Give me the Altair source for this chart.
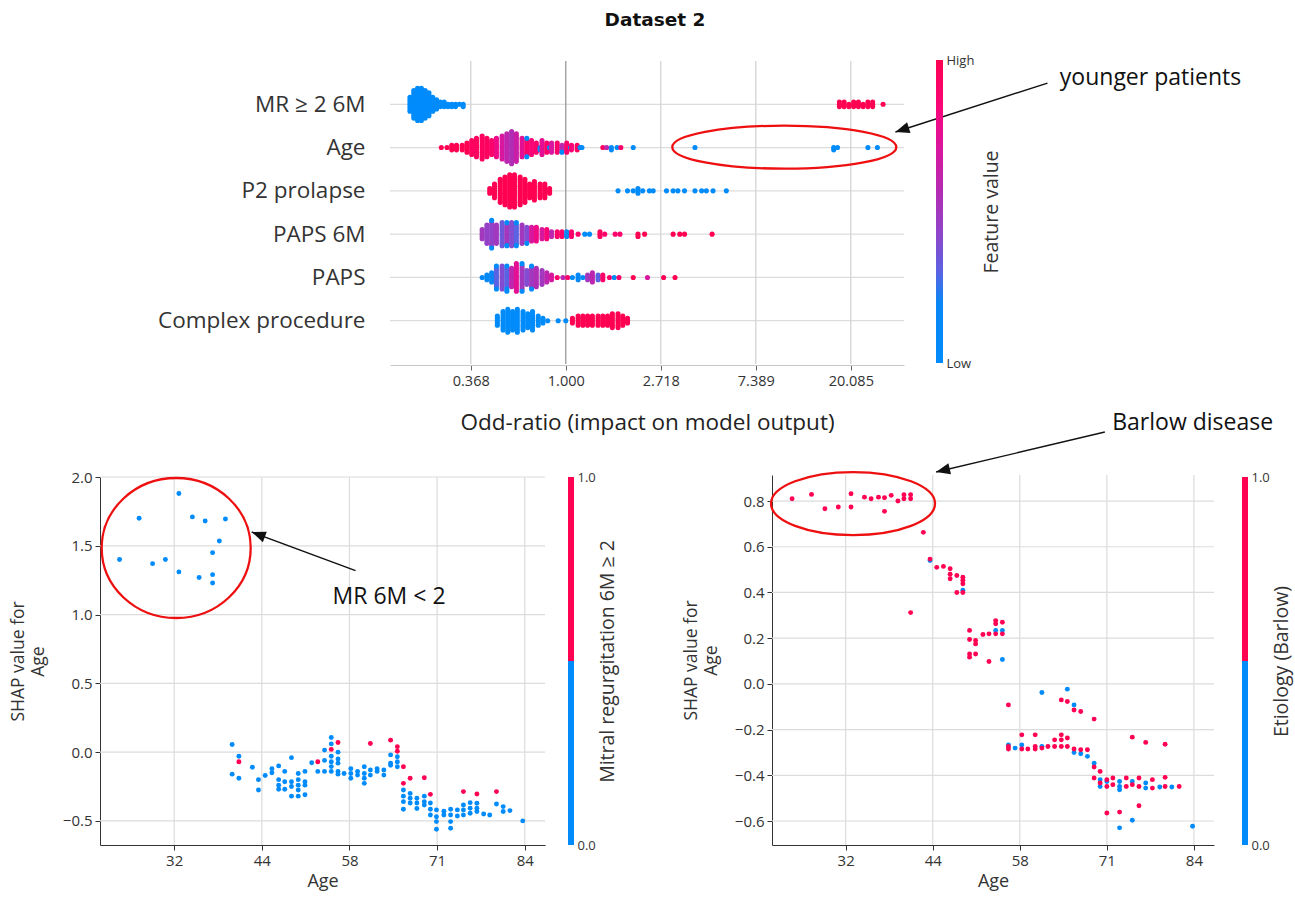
import math
import altair as alt
import pandas as pd

W, H = 1295, 899
FONT = "Open Sans"

# ---------------- data ----------------
TITLE = "Dataset 2"
FEATURES = ["MR ≥ 2 6M", "Age", "P2 prolapse", "PAPS 6M", "PAPS", "Complex procedure"]
ODDS_TICKS = [-1, 0, 1, 2, 3]
ODDS_LABELS = ["0.368", "1.000", "2.718", "7.389", "20.085"]
TOP_X_TITLE = "Odd-ratio (impact on model output)"

# beeswarm bins per feature: (SHAP log-odds, dots stacked at that value, feature value 0..1)
SW_MR = [(-1.64, 7, 0), (-1.60, 13, 0), (-1.56, 15, 0), (-1.52, 15, 0), (-1.48, 13, 0), (-1.44, 11, 0),
         (-1.40, 7, 0), (-1.36, 5, 0), (-1.32, 3, 0), (-1.28, 3, 0), (-1.24, 2, 0), (-1.20, 2, 0),
         (-1.16, 2, 0), (-1.12, 1, 0), (-1.08, 2, 0),
         (2.88, 3, 1), (2.93, 3, 1), (2.98, 2, 1), (3.03, 3, 1), (3.08, 3, 1), (3.13, 2, 1),
         (3.18, 3, 1), (3.23, 3, 1), (3.34, 1, 1)]
SW_AGE = [(-1.31, 1, 1), (-1.25, 1, 1), (-1.20, 3, 1), (-1.15, 3, 1), (-1.09, 3, 1), (-1.04, 5, 1),
          (-0.99, 7, .95), (-0.94, 9, .95), (-0.88, 11, .95), (-0.83, 9, .95), (-0.78, 7, .9),
          (-0.73, 9, .8), (-0.67, 11, .7), (-0.62, 13, .6), (-0.57, 15, .55), (-0.52, 13, .65),
          (-0.46, 9, .75), (-0.41, 7, .9), (-0.41, 2, 0), (-0.36, 7, .85), (-0.31, 5, .9),
          (-0.27, 2, 0), (-0.25, 7, .75), (-0.20, 5, .9), (-0.17, 1, 0), (-0.15, 5, .7),
          (-0.09, 5, .9), (-0.04, 3, .6), (-0.04, 1, 0), (0.01, 5, .9), (0.05, 1, 0), (0.06, 3, .85),
          (0.12, 3, .95), (0.15, 1, 0), (0.17, 1, 0), (0.39, 1, .95), (0.43, 1, .6), (0.48, 2, .05),
          (0.54, 1, 0), (0.58, 1, .9), (0.71, 1, 0), (1.36, 1, 0), (2.82, 2, 0), (2.86, 1, 0),
          (3.18, 1, 0), (3.28, 1, 0)]
SW_P2 = [(-0.80, 3, 1), (-0.75, 7, 1), (-0.69, 11, 1), (-0.64, 13, 1), (-0.59, 15, 1), (-0.54, 15, 1),
         (-0.48, 13, 1), (-0.43, 11, 1), (-0.38, 7, 1), (-0.33, 9, 1), (-0.27, 7, 1), (-0.22, 7, 1),
         (-0.17, 3, 1),
         (0.55, 1, 0), (0.65, 1, 0), (0.71, 1, 0), (0.76, 3, 0), (0.81, 1, 0), (0.88, 1, 0), (0.92, 1, 0),
         (1.06, 1, 0), (1.13, 1, 0), (1.18, 1, 0), (1.25, 1, 0), (1.36, 1, 0), (1.43, 1, 0), (1.48, 1, 0),
         (1.55, 1, 0), (1.69, 1, 0)]
SW_PAPS6M = [(-0.88, 5, .5), (-0.83, 9, .45), (-0.78, 11, .45), (-0.78, 2, 0), (-0.73, 9, .5),
             (-0.67, 11, .35), (-0.62, 9, .5), (-0.62, 2, 0), (-0.57, 11, .4), (-0.52, 9, .3),
             (-0.52, 2, .05), (-0.46, 9, .5), (-0.41, 7, .4), (-0.41, 1, 0), (-0.36, 7, .7),
             (-0.31, 7, .8), (-0.25, 5, .7), (-0.20, 5, .85), (-0.15, 3, .6), (-0.09, 3, .9),
             (-0.04, 3, .9), (0.01, 3, .2), (0.06, 3, .9), (0.13, 1, .9), (0.20, 1, 0), (0.25, 1, 0),
             (0.36, 3, .95), (0.41, 1, .9), (0.52, 1, .9), (0.57, 1, .9), (0.76, 2, 1), (0.83, 1, 1),
             (1.13, 1, 1), (1.20, 1, 1), (1.25, 1, 1), (1.54, 1, 1)]
SW_PAPS = [(-0.88, 1, .1), (-0.83, 3, .1), (-0.78, 5, .2), (-0.73, 9, .3), (-0.73, 2, 0), (-0.67, 11, .4),
           (-0.62, 9, .3), (-0.62, 3, 0), (-0.57, 9, .6), (-0.52, 13, .75), (-0.46, 11, .5), (-0.46, 2, 0),
           (-0.41, 7, .4), (-0.36, 9, .5), (-0.36, 2, 0), (-0.31, 9, .55), (-0.25, 7, .5), (-0.20, 5, .6),
           (-0.15, 3, .7), (-0.09, 1, .9), (-0.03, 1, .6), (0.02, 1, .9), (0.07, 1, 0), (0.13, 3, .1),
           (0.18, 1, 0), (0.23, 3, .5), (0.28, 5, .6), (0.34, 3, .3), (0.39, 3, .9), (0.46, 1, .9),
           (0.51, 1, 0), (0.56, 1, .9), (0.71, 1, 1), (0.86, 1, .7), (1.03, 1, 1), (1.15, 1, 1)]
SW_COMPLEX = [(-0.72, 5, 0), (-0.66, 9, 0), (-0.61, 11, 0), (-0.56, 9, 0), (-0.51, 11, 0), (-0.45, 9, 0),
              (-0.40, 7, 0), (-0.35, 9, 0), (-0.29, 5, 0), (-0.24, 3, 0), (-0.19, 1, 0), (-0.08, 1, 0),
              (0.00, 1, 0),
              (0.07, 3, 1), (0.13, 5, 1), (0.18, 5, 1), (0.23, 5, 1), (0.28, 5, 1), (0.34, 5, 1),
              (0.39, 5, 1), (0.44, 5, 1), (0.49, 7, 1), (0.55, 7, 1), (0.60, 5, 1), (0.65, 3, 1)]
SWARM_ROWS = [SW_MR, SW_AGE, SW_P2, SW_PAPS6M, SW_PAPS, SW_COMPLEX]

AGE_TICKS = [32, 45, 58, 71, 84]
AGE_LABELS = ["32", "44", "58", "71", "84"]
LEFT_Y_TICKS = [-0.5, 0.0, 0.5, 1.0, 1.5, 2.0]
RIGHT_Y_TICKS = [-0.6, -0.4, -0.2, 0.0, 0.2, 0.4, 0.6, 0.8]
DEP_Y_TITLE = ["SHAP value for", "Age"]
LEFT_CB_TITLE = "Mitral regurgitation 6M ≥ 2"
RIGHT_CB_TITLE = "Etiology (Barlow)"

# dependence plot (age, SHAP) points, split by colour feature (0 = blue, 1 = red)
LEFT_BLUE = [(23.9, 1.40), (26.8, 1.70), (28.8, 1.37), (30.7, 1.40), (32.7, 1.88), (32.7, 1.31),
             (34.7, 1.71), (35.7, 1.27), (36.6, 1.68), (37.7, 1.45), (37.7, 1.29), (37.7, 1.23),
             (38.7, 1.535), (39.6, 1.695),
             (40.6, 0.056), (40.6, -0.16), (41.6, -0.03), (41.6, -0.19), (43.6, -0.11), (44.5, -0.20),
             (44.5, -0.275), (45.5, -0.17), (46.5, -0.12), (46.5, -0.15), (47.5, -0.10), (47.5, -0.20),
             (47.5, -0.24), (47.5, -0.27), (48.4, -0.14), (48.4, -0.215), (48.4, -0.27), (49.4, -0.04),
             (49.4, -0.215), (49.4, -0.25), (49.4, -0.32), (50.4, -0.155), (50.4, -0.20), (50.4, -0.24),
             (50.4, -0.275), (50.4, -0.32), (51.4, -0.14), (51.4, -0.215), (51.4, -0.24), (51.4, -0.31),
             (52.4, -0.077), (53.3, -0.14), (54.3, 0.015), (54.3, -0.06), (54.3, -0.14), (55.3, 0.106),
             (55.3, 0.06), (55.3, -0.03), (55.3, -0.07), (55.3, -0.105), (55.3, -0.14), (56.3, 0.0),
             (56.3, -0.05), (56.3, -0.08), (56.3, -0.14), (56.3, -0.16), (57.2, -0.155), (58.2, -0.12),
             (58.2, -0.155), (58.2, -0.19), (59.2, -0.14), (59.2, -0.167), (60.2, -0.106), (60.2, -0.155),
             (60.2, -0.19), (60.2, -0.227), (61.1, -0.13), (61.1, -0.167), (62.1, -0.12), (62.1, -0.14),
             (63.1, -0.13), (63.1, -0.167), (64.1, -0.02), (64.1, -0.08), (64.1, -0.095), (65.1, -0.034),
             (65.1, -0.07), (65.1, -0.106), (66.0, -0.275), (66.0, -0.32), (66.0, -0.36), (66.0, -0.415),
             (67.0, -0.30), (67.0, -0.335), (67.0, -0.37), (68.0, -0.335), (68.0, -0.37), (68.0, -0.41),
             (69.1, -0.32), (69.1, -0.36), (69.1, -0.385), (70.0, -0.37), (70.0, -0.415), (70.0, -0.457),
             (70.9, -0.42), (70.9, -0.47), (70.9, -0.505), (70.9, -0.56), (72.0, -0.43), (72.0, -0.457),
             (73.0, -0.415), (73.0, -0.457), (73.0, -0.505), (73.0, -0.553), (74.0, -0.42), (74.0, -0.464),
             (74.9, -0.384), (74.9, -0.42), (74.9, -0.457), (75.9, -0.367), (75.9, -0.408), (75.9, -0.444),
             (76.9, -0.372), (76.9, -0.408), (76.9, -0.432), (77.9, -0.45), (78.8, -0.457), (79.8, -0.377),
             (80.8, -0.396), (80.8, -0.432), (81.8, -0.425), (83.7, -0.50)]
LEFT_RED = [(41.6, -0.07), (53.3, -0.07), (55.3, 0.02), (56.3, 0.07), (61.1, 0.063), (64.1, 0.087),
            (65.1, 0.04), (65.1, 0.007), (66.0, -0.106), (66.0, -0.227), (67.0, -0.19), (69.1, -0.186),
            (70.0, -0.307), (74.9, -0.287), (76.9, -0.304), (79.8, -0.287)]
RIGHT_BLUE = [(44.6, 0.54), (49.5, 0.41), (54.4, 0.234), (55.4, 0.234), (55.4, 0.107), (56.3, -0.267),
              (57.3, -0.281), (58.3, -0.267), (61.3, -0.038), (61.3, -0.274), (65.1, -0.023), (66.1, -0.092),
              (66.1, -0.30), (67.1, -0.306), (68.1, -0.317), (69.1, -0.347), (70.0, -0.419), (70.0, -0.449),
              (71.0, -0.427), (72.9, -0.427), (72.9, -0.449), (72.9, -0.463), (72.9, -0.63), (74.8, -0.427),
              (74.8, -0.597), (76.8, -0.434), (76.8, -0.456), (78.9, -0.451), (80.7, -0.451), (83.8, -0.623)]
RIGHT_RED = [(24.0, 0.81), (26.9, 0.829), (28.9, 0.766), (30.9, 0.774), (32.8, 0.832), (32.8, 0.774),
             (34.8, 0.817), (35.8, 0.81), (36.9, 0.817), (37.8, 0.815), (37.8, 0.755), (38.8, 0.825),
             (39.8, 0.80), (40.7, 0.828), (40.7, 0.81), (41.7, 0.828), (41.7, 0.81), (41.7, 0.312),
             (43.6, 0.663), (44.6, 0.546), (45.6, 0.51), (46.6, 0.514), (47.6, 0.504), (47.6, 0.48),
             (47.6, 0.46), (48.6, 0.474), (48.6, 0.40), (49.5, 0.467), (49.5, 0.453), (49.5, 0.438),
             (49.5, 0.40), (50.5, 0.234), (50.5, 0.194), (50.5, 0.131), (50.5, 0.117), (51.4, 0.19),
             (51.4, 0.175), (51.4, 0.131), (52.5, 0.216), (53.4, 0.219), (53.4, 0.098), (54.4, 0.277),
             (54.4, 0.263), (54.4, 0.219), (55.4, 0.27), (55.4, 0.219),
             (56.3, -0.092), (56.3, -0.274), (56.3, -0.285), (58.3, -0.223), (58.3, -0.285), (59.2, -0.285),
             (60.3, -0.223), (60.3, -0.274), (60.3, -0.285), (61.3, -0.281), (62.2, -0.274), (63.2, -0.245),
             (63.2, -0.274), (64.2, -0.07), (64.2, -0.223), (64.2, -0.245), (64.2, -0.274), (65.1, -0.077),
             (65.1, -0.237), (65.1, -0.274), (66.1, -0.114), (66.1, -0.285), (67.1, -0.121), (67.1, -0.288),
             (68.1, -0.288), (69.1, -0.154), (69.1, -0.364), (69.1, -0.412), (70.0, -0.383), (70.0, -0.434),
             (71.0, -0.419), (71.0, -0.449), (71.0, -0.565), (71.9, -0.412), (71.9, -0.441), (72.9, -0.561),
             (73.9, -0.412), (73.9, -0.449), (74.8, -0.441), (74.8, -0.233), (75.8, -0.412), (75.8, -0.449),
             (75.8, -0.533), (76.8, -0.256), (77.8, -0.419), (77.8, -0.456), (79.7, -0.264), (79.7, -0.409),
             (79.7, -0.449), (81.8, -0.449)]

# annotations (data coordinates of each panel)
TOP_NOTE = ("younger patients", 5.20, -0.61)
TOP_ARROW = (5.07, -0.49, 3.47, 0.64)
TOP_RING = (2.30, 0.99)
LEFT_NOTE = ("MR 6M < 2", 55.5, 1.13)
LEFT_ARROW = (58.9, 1.32, 43.5, 1.60)
LEFT_RING = (32.3, 1.484)
RIGHT_NOTE = ("Barlow disease", 71.8, 1.142)
RIGHT_ARROW = (70.7, 1.102, 45.5, 0.927)
RIGHT_RING = (33.1, 0.789)

# ---------------- layout / style ----------------
TOP_X_DOM, TOP_X_RNG = [-1.85, 3.56], [390, 904]
TOP_Y_DOM, TOP_Y_RNG = [-1, 6], [61, 364]
AGE_DOM = [21, 87]
L_X_RNG, L_Y_DOM, L_Y_RNG = [100, 545], [-0.675, 2.0], [845, 477]
R_X_RNG, R_Y_DOM, R_Y_RNG = [772, 1214], [-0.705, 0.914], [845, 475]
CB_DOM = [0, 1]
CB_TOP_RNG, CB_RNG = [363, 60], [845, 477]

STOP_POS = [0, 0.2, 0.3, 0.42, 0.57, 0.73, 0.85, 1]
STOP_COL = ["#008bfb", "#0a86f5", "#5a63e2", "#8c47cc", "#b52ab2", "#e0129a", "#fa0577", "#ff0052"]
GRID = "#dcdcdc"
TXT = "#333333"
STEP_PX = 2.3
NOTE_SIZE = 23
CB_TITLE_SIZE = 19.5
FEAT_SIZE = 22.5


def sc(dom, rng):
    return alt.Scale(domain=dom, range=rng, nice=False, zero=False)


def lin(dom, rng, v):
    return rng[0] + (v - dom[0]) * (rng[1] - rng[0]) / (dom[1] - dom[0])


def ellipse_path(r):
    k = 0.5523
    return (f"M -1 0 C -1 {-k*r:.4f} {-k:.4f} {-r:.4f} 0 {-r:.4f} "
            f"C {k:.4f} {-r:.4f} 1 {-k*r:.4f} 1 0 "
            f"C 1 {k*r:.4f} {k:.4f} {r:.4f} 0 {r:.4f} "
            f"C {-k:.4f} {r:.4f} -1 {k*r:.4f} -1 0 Z")


HEAD = "M 0 0 L -1 -0.4 L -1 0.4 Z"
color_scale = alt.Scale(domain=STOP_POS, range=STOP_COL, interpolate="rgb", nice=False, zero=False)


def annotations(xdom, xrng, ydom, yrng, ring, rx, ry, arrow, note):
    def X(f):
        return alt.X(f, scale=sc(xdom, xrng), axis=None)

    def Y(f):
        return alt.Y(f, scale=sc(ydom, yrng), axis=None)

    ring_df = pd.DataFrame({"x": [ring[0]], "y": [ring[1]]})
    ring_l = alt.Chart(ring_df).mark_point(
        shape=ellipse_path(ry / rx), size=(2 * rx) ** 2, filled=False, color="#ee1010",
        strokeWidth=2.3, opacity=1).encode(x=X("x:Q"), y=Y("y:Q"))
    x0, y0, x1, y1 = arrow
    adf = pd.DataFrame({"x": [x0], "y": [y0], "x2": [x1], "y2": [y1]})
    shaft = alt.Chart(adf).mark_rule(color="#111111", strokeWidth=1.4).encode(
        x=X("x:Q"), y=Y("y:Q"), x2="x2:Q", y2="y2:Q")
    dx = lin(xdom, xrng, x1) - lin(xdom, xrng, x0)
    dy = lin(ydom, yrng, y1) - lin(ydom, yrng, y0)
    ang = math.degrees(math.atan2(dy, dx)) % 360
    head = alt.Chart(pd.DataFrame({"x": [x1], "y": [y1]})).mark_point(
        shape=HEAD, size=784, filled=True, color="#111111", opacity=1, angle=ang).encode(
        x=X("x:Q"), y=Y("y:Q"))
    txt = alt.Chart(pd.DataFrame({"t": [note[0]], "x": [note[1]], "y": [note[2]]})).mark_text(
        align="left", baseline="middle", font=FONT, fontSize=NOTE_SIZE, color="#111111").encode(
        x=X("x:Q"), y=Y("y:Q"), text="t:N")
    return [ring_l, shaft, head, txt]


# ---------------- top beeswarm ----------------
step = STEP_PX * (TOP_Y_DOM[1] - TOP_Y_DOM[0]) / (TOP_Y_RNG[1] - TOP_Y_RNG[0])
recs = []
for r, bins in enumerate(SWARM_ROWS):
    used = {}
    for x, n, c in bins:
        k0 = used.get(x, 0)
        for k in range(k0, k0 + n):
            lvl = (k + 1) // 2 if k % 2 else -(k // 2)
            recs.append({"x": x, "y": r + lvl * step, "c": c})
        used[x] = k0 + n
swarm_df = pd.DataFrame(recs)

odds_expr = "[" + ",".join(f"'{s}'" for s in ODDS_LABELS) + "][datum.value + 1]"
feat_expr = "[" + ",".join(f"'{s}'" for s in FEATURES) + "][datum.value]"

top_x_axis = alt.Axis(orient="bottom", offset=TOP_Y_RNG[1] + 1 - H, values=ODDS_TICKS, labelExpr=odds_expr,
                      grid=False, domainColor="#c8c8c8", tickColor="#666666", tickSize=5,
                      labelFont=FONT, labelFontSize=14.5, labelColor=TXT, labelPadding=4,
                      title=TOP_X_TITLE, titleFont=FONT, titleFontSize=22.5, titleFontWeight="normal",
                      titleColor="#222222", titlePadding=24)
top_y_axis = alt.Axis(orient="left", offset=-TOP_X_RNG[0], values=list(range(len(FEATURES))),
                      labelExpr=feat_expr, domain=False, ticks=False, tickSize=0, grid=False,
                      labelFont=FONT, labelFontSize=FEAT_SIZE, labelColor=TXT, labelPadding=25,
                      labelLimit=400, title=None)

top_vgrid = alt.Chart(pd.DataFrame({"t": ODDS_TICKS})).mark_rule(strokeWidth=1.3).encode(
    x=alt.X("t:Q", scale=sc(TOP_X_DOM, TOP_X_RNG), axis=top_x_axis),
    y=alt.YDatum(TOP_Y_DOM[0], scale=sc(TOP_Y_DOM, TOP_Y_RNG), axis=None), y2=alt.Y2Datum(TOP_Y_DOM[1]),
    stroke=alt.condition("datum.t == 0", alt.value("#9a9a9a"), alt.value("#d4d4d4")))
top_hgrid = alt.Chart(pd.DataFrame({"r": list(range(len(FEATURES)))})).mark_rule(
    color=GRID, strokeWidth=1.2).encode(
    y=alt.Y("r:Q", scale=sc(TOP_Y_DOM, TOP_Y_RNG), axis=top_y_axis),
    x=alt.XDatum(TOP_X_DOM[0], scale=sc(TOP_X_DOM, TOP_X_RNG), axis=None), x2=alt.X2Datum(TOP_X_DOM[1]))
top_pts = alt.Chart(swarm_df).mark_circle(size=26, opacity=1).encode(
    x=alt.X("x:Q", scale=sc(TOP_X_DOM, TOP_X_RNG), axis=None),
    y=alt.Y("y:Q", scale=sc(TOP_Y_DOM, TOP_Y_RNG), axis=None),
    color=alt.Color("c:Q", scale=color_scale, legend=None))
top_layers = [top_hgrid, top_vgrid, top_pts] + annotations(
    TOP_X_DOM, TOP_X_RNG, TOP_Y_DOM, TOP_Y_RNG, TOP_RING, 112, 21.5, TOP_ARROW, TOP_NOTE)

# ---------------- dependence plots ----------------
age_expr = ("[" + ",".join(f"'{s}'" for s in AGE_LABELS) + "][indexof(["
            + ",".join(str(v) for v in AGE_TICKS) + "], datum.value)]")
num_expr = "replace(format(datum.value, '.1f'), '-', '\u2212')"


def dep_panel(x_rng, y_dom, y_rng, y_ticks, blue, red, ring, rx, ry, arrow, note, title_pad):
    x_axis = alt.Axis(orient="bottom", offset=y_rng[0] - H, values=AGE_TICKS, labelExpr=age_expr,
                      grid=False, domainColor="#333333", tickColor="#333333", tickSize=5,
                      labelFont=FONT, labelFontSize=15, labelColor=TXT, labelPadding=3,
                      title="Age", titleFont=FONT, titleFontSize=18, titleFontWeight="normal",
                      titleColor=TXT, titlePadding=4)
    y_axis = alt.Axis(orient="left", offset=-x_rng[0], values=y_ticks, labelExpr=num_expr,
                      grid=False, domainColor="#333333", tickColor="#333333", tickSize=5,
                      labelFont=FONT, labelFontSize=15, labelColor=TXT, labelPadding=3,
                      title=DEP_Y_TITLE, titleFont=FONT, titleFontSize=17.5, titleFontWeight="normal",
                      titleColor=TXT, titlePadding=title_pad, titleBaseline="bottom", titleAngle=270,
                      titleLineHeight=20)
    vgrid = alt.Chart(pd.DataFrame({"t": AGE_TICKS})).mark_rule(color=GRID, strokeWidth=1.2).encode(
        x=alt.X("t:Q", scale=sc(AGE_DOM, x_rng), axis=x_axis),
        y=alt.YDatum(y_dom[0], scale=sc(y_dom, y_rng), axis=None), y2=alt.Y2Datum(y_dom[1]))
    hgrid = alt.Chart(pd.DataFrame({"v": y_ticks})).mark_rule(color=GRID, strokeWidth=1.2).encode(
        y=alt.Y("v:Q", scale=sc(y_dom, y_rng), axis=y_axis),
        x=alt.XDatum(AGE_DOM[0], scale=sc(AGE_DOM, x_rng), axis=None), x2=alt.X2Datum(AGE_DOM[1]))
    pts_df = pd.DataFrame([{"age": a, "shap": s, "v": 0} for a, s in blue]
                          + [{"age": a, "shap": s, "v": 1} for a, s in red])
    pts = alt.Chart(pts_df).mark_circle(size=24, opacity=1).encode(
        x=alt.X("age:Q", scale=sc(AGE_DOM, x_rng), axis=None),
        y=alt.Y("shap:Q", scale=sc(y_dom, y_rng), axis=None),
        color=alt.Color("v:Q", scale=color_scale, legend=None))
    return [vgrid, hgrid, pts] + annotations(AGE_DOM, x_rng, y_dom, y_rng, ring, rx, ry, arrow, note)


left_layers = dep_panel(L_X_RNG, L_Y_DOM, L_Y_RNG, LEFT_Y_TICKS, LEFT_BLUE, LEFT_RED,
                        LEFT_RING, 74.5, 70, LEFT_ARROW, LEFT_NOTE, 15)
right_layers = dep_panel(R_X_RNG, R_Y_DOM, R_Y_RNG, RIGHT_Y_TICKS, RIGHT_BLUE, RIGHT_RED,
                         RIGHT_RING, 82, 31.5, RIGHT_ARROW, RIGHT_NOTE, 14)


# ---------------- colour bars ----------------
def cb_axis(x_right, title, label_expr, pad, lab_pad=3):
    return alt.Axis(orient="right", offset=x_right - W, values=CB_DOM, labelExpr=label_expr,
                    domain=False, ticks=False, tickSize=0, grid=False, labelFont=FONT,
                    labelFontSize=13, labelColor=TXT, labelPadding=lab_pad,
                    title=title, titleFont=FONT, titleFontSize=CB_TITLE_SIZE, titleFontWeight="normal",
                    titleColor=TXT, titleAngle=270, titleBaseline="top", titlePadding=pad)


grad = alt.LinearGradient(gradient="linear",
                          stops=[alt.GradientStop(color=c, offset=o) for o, c in zip(STOP_POS, STOP_COL)],
                          x1=0, x2=0, y1=1, y2=0)
cb_top = alt.Chart(pd.DataFrame({"lo": [CB_DOM[0]], "hi": [CB_DOM[1]]})).mark_rect(color=grad).encode(
    x=alt.value(936), x2=alt.value(943),
    y=alt.Y("lo:Q", scale=sc(CB_DOM, CB_TOP_RNG),
            axis=cb_axis(943, "Feature value", "datum.value == 1 ? 'High' : 'Low'", 9)),
    y2="hi:Q")

bin_df = pd.DataFrame({"lo": [0, 0.5], "hi": [0.5, 1], "v": [0, 1]})


def binary_bar(x0, x1, title):
    return alt.Chart(bin_df).mark_rect().encode(
        x=alt.value(x0), x2=alt.value(x1),
        y=alt.Y("lo:Q", scale=sc(CB_DOM, CB_RNG), axis=cb_axis(x1, title, "format(datum.value, '.1f')", 3)),
        y2="hi:Q", color=alt.Color("v:Q", scale=color_scale, legend=None))


cb_left = binary_bar(568, 574, LEFT_CB_TITLE)
cb_right = binary_bar(1242, 1248, RIGHT_CB_TITLE)

title_layer = alt.Chart(pd.DataFrame({"t": [TITLE]})).mark_text(
    font="DejaVu Sans", fontWeight="bold", fontSize=18.5, color="#111111", align="center",
    baseline="middle").encode(text="t:N", x=alt.value(655), y=alt.value(20))

chart = alt.layer(*top_layers, *left_layers, *right_layers, cb_top, cb_left, cb_right,
                  title_layer).resolve_scale(
    x="independent", y="independent").resolve_axis(x="independent", y="independent").properties(
    width=W, height=H, autosize=alt.AutoSizeParams(type="none"), padding=0,
    background="white").configure_view(stroke=None)

chart.save("out.html", embed_options={"renderer": "svg", "actions": False})
